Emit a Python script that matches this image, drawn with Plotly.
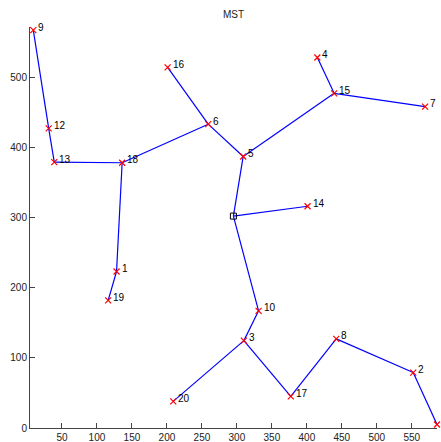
import plotly.graph_objects as go

# Node ids: 0 is the (unlabelled) root shown as a square
node_ids = list(range(21))
node_x = [295, 128, 552, 310, 415, 309, 259, 569, 442, 9, 331, 586, 31, 39, 401, 439, 201, 377, 136, 116, 209]
node_y = [302, 223, 79, 124.5, 528, 387, 433, 458, 127, 567, 167, 5, 427, 379, 316, 477, 514, 45, 378, 182, 38]
# label of node 11 falls outside the figure in the original, so it is not shown
node_labels = ["", "1", "2", "3", "4", "5", "6", "7", "8", "9", "10", "", "12", "13", "14", "15", "16", "17", "18", "19", "20"]

edges = [(9, 12), (12, 13), (13, 18), (18, 1), (1, 19), (18, 6), (6, 16), (6, 5),
         (5, 15), (15, 4), (15, 7), (5, 0), (0, 14), (0, 10), (10, 3), (3, 20),
         (3, 17), (17, 8), (8, 2), (2, 11)]

ex, ey = [], []
for a, b in edges:
    ex += [node_x[a], node_x[b], None]
    ey += [node_y[a], node_y[b], None]

fig = go.Figure()
fig.add_trace(go.Scatter(x=ex, y=ey, mode="lines", line=dict(color="#0000ff", width=1.2),
                         hoverinfo="skip", showlegend=False, cliponaxis=False))
fig.add_trace(go.Scatter(x=node_x[1:], y=node_y[1:], mode="markers",
                         marker=dict(symbol="x-thin", size=6, line=dict(color="#ff0000", width=1.2)),
                         showlegend=False, cliponaxis=False))
fig.add_trace(go.Scatter(x=[node_x[0]], y=[node_y[0]], mode="markers",
                         marker=dict(symbol="square-open", size=6, color="black", line=dict(width=1)),
                         showlegend=False, cliponaxis=False))

for i in node_ids[1:]:
    if node_labels[i]:
        fig.add_annotation(x=node_x[i], y=node_y[i], text=node_labels[i], showarrow=False,
                           xanchor="left", yanchor="middle", xshift=3, yshift=3,
                           font=dict(size=10, color="black", family="Liberation Sans"))

fig.update_layout(
    width=441, height=442,
    margin=dict(l=30, r=4, t=27, b=13.5),
    paper_bgcolor="white", plot_bgcolor="white",
    title=dict(text="MST", x=(30 + 437) / 2 / 441, xanchor="center", y=1 - 14 / 442, yanchor="middle",
               font=dict(size=10, color="#222222", family="Liberation Sans")),
    font=dict(family="Liberation Sans", size=10, color="#222222"),
    xaxis=dict(range=[4.3, 586], showgrid=False, zeroline=False, showline=True, linecolor="#444444",
               linewidth=1, ticks="inside", ticklen=5, tickcolor="#444444", automargin=False,
               tickvals=[50, 100, 150, 200, 250, 300, 350, 400, 450, 500, 550], ticklabelstandoff=0),
    yaxis=dict(range=[0, 571.5], showgrid=False, zeroline=False, showline=True, linecolor="#444444",
               linewidth=1, ticks="inside", ticklen=5, tickcolor="#444444", automargin=False,
               tickvals=[0, 100, 200, 300, 400, 500]),
)

fig.write_html("out.html")
